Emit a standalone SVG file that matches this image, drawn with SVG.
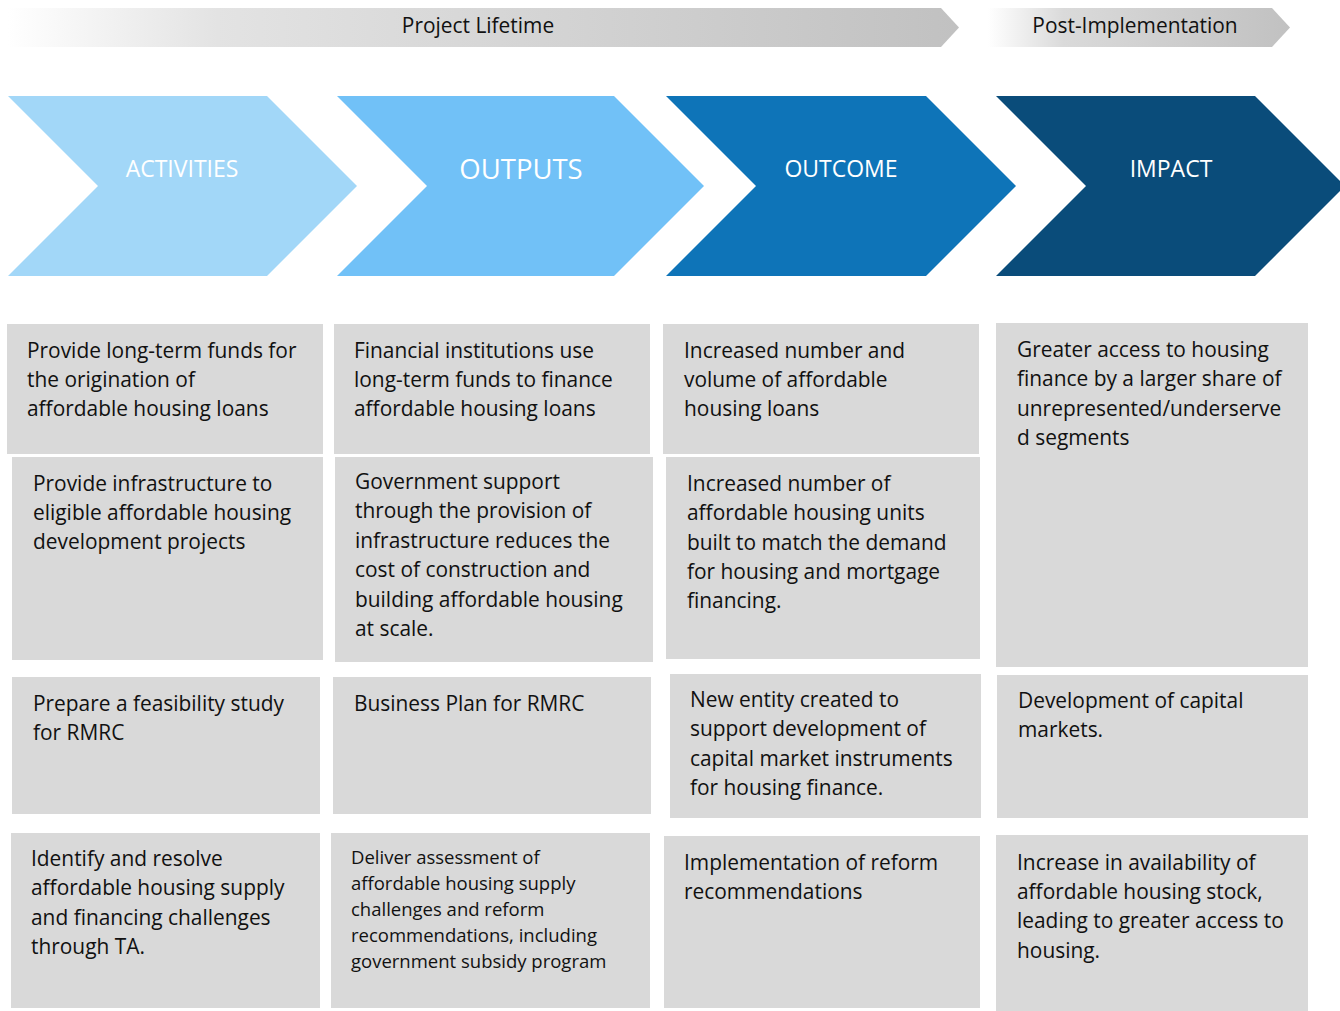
<svg xmlns="http://www.w3.org/2000/svg" width="1340" height="1011" viewBox="0 0 1340 1011">
  <defs>
    <linearGradient id="gradLifetime" x1="8" y1="0" x2="958" y2="0" gradientUnits="userSpaceOnUse">
      <stop offset="0" stop-color="#ffffff"/>
      <stop offset="0.22" stop-color="#e3e3e3"/>
      <stop offset="1" stop-color="#c1c1c1"/>
    </linearGradient>
    <linearGradient id="gradPost" x1="988" y1="0" x2="1290" y2="0" gradientUnits="userSpaceOnUse">
      <stop offset="0" stop-color="#ffffff"/>
      <stop offset="0.25" stop-color="#dadada"/>
      <stop offset="1" stop-color="#c1c1c1"/>
    </linearGradient>
    <style>
      .box { fill: #d9d9d9; }
      .txt { font-family: "Open Sans", "Liberation Sans", sans-serif; font-size: 20.9px; fill: #111111; }
      .small { font-size: 18.5px; }
      .banner { font-family: "Open Sans", "Liberation Sans", sans-serif; font-size: 20.9px; fill: #111111; text-anchor: middle; }
      .stage { font-family: "Open Sans", "Liberation Sans", sans-serif; font-size: 23px; fill: #ffffff; text-anchor: middle; }
      .stage-big { font-size: 27.5px; }
    </style>
  </defs>

  <!-- Timeline banners -->
  <g id="banner-lifetime">
    <polygon points="8,8 941,8 959,27.5 941,47 8,47" fill="url(#gradLifetime)"/>
    <text class="banner" x="478" y="32.5">Project Lifetime</text>
  </g>
  <g id="banner-post">
    <polygon points="988,8 1272,8 1290,27.5 1272,47 988,47" fill="url(#gradPost)"/>
    <text class="banner" x="1135" y="32.5">Post-Implementation</text>
  </g>

  <!-- Stage chevrons -->
  <g id="stage-activities">
    <polygon points="8,96 267,96 357,186 267,276 8,276 98,186" fill="#a2d7f8"/>
    <text class="stage" x="182" y="177">ACTIVITIES</text>
  </g>
  <g id="stage-outputs">
    <polygon points="337,96 614,96 704,186 614,276 337,276 427,186" fill="#71c1f7"/>
    <text class="stage stage-big" x="521" y="179">OUTPUTS</text>
  </g>
  <g id="stage-outcome">
    <polygon points="666,96 926,96 1016,186 926,276 666,276 756,186" fill="#0e74b8"/>
    <text class="stage" x="841" y="177">OUTCOME</text>
  </g>
  <g id="stage-impact">
    <polygon points="996,96 1255,96 1345,186 1255,276 996,276 1086,186" fill="#0a4c7a"/>
    <text class="stage" x="1171" y="177">IMPACT</text>
  </g>

  <!-- Activities column -->
  <g id="act-1">
    <rect class="box" x="7" y="324" width="316" height="130"/>
    <text class="txt" x="27" y="358"><tspan x="27">Provide long-term funds for</tspan><tspan x="27" dy="29">the origination of</tspan><tspan x="27" dy="29">affordable housing loans</tspan></text>
  </g>
  <g id="act-2">
    <rect class="box" x="12" y="457" width="311" height="203"/>
    <text class="txt" x="33" y="491"><tspan x="33">Provide infrastructure to</tspan><tspan x="33" dy="29">eligible affordable housing</tspan><tspan x="33" dy="29">development projects</tspan></text>
  </g>
  <g id="act-3">
    <rect class="box" x="12" y="677" width="308" height="137"/>
    <text class="txt" x="33" y="711"><tspan x="33">Prepare a feasibility study</tspan><tspan x="33" dy="29">for RMRC</tspan></text>
  </g>
  <g id="act-4">
    <rect class="box" x="11" y="833" width="309" height="175"/>
    <text class="txt" x="31" y="866"><tspan x="31">Identify and resolve</tspan><tspan x="31" dy="29.3">affordable housing supply</tspan><tspan x="31" dy="29.3">and financing challenges</tspan><tspan x="31" dy="29.3">through TA.</tspan></text>
  </g>

  <!-- Outputs column -->
  <g id="out-1">
    <rect class="box" x="334" y="324" width="316" height="130"/>
    <text class="txt" x="354" y="358"><tspan x="354">Financial institutions use</tspan><tspan x="354" dy="29">long-term funds to finance</tspan><tspan x="354" dy="29">affordable housing loans</tspan></text>
  </g>
  <g id="out-2">
    <rect class="box" x="335" y="457" width="318" height="205"/>
    <text class="txt" x="355" y="489"><tspan x="355">Government support</tspan><tspan x="355" dy="29.4">through the provision of</tspan><tspan x="355" dy="29.4">infrastructure reduces the</tspan><tspan x="355" dy="29.4">cost of construction and</tspan><tspan x="355" dy="29.4">building affordable housing</tspan><tspan x="355" dy="29.4">at scale.</tspan></text>
  </g>
  <g id="out-3">
    <rect class="box" x="333" y="677" width="318" height="137"/>
    <text class="txt" x="354" y="711">Business Plan for RMRC</text>
  </g>
  <g id="out-4">
    <rect class="box" x="331" y="833" width="319" height="175"/>
    <text class="txt small" x="351" y="864"><tspan x="351">Deliver assessment of</tspan><tspan x="351" dy="26">affordable housing supply</tspan><tspan x="351" dy="26">challenges and reform</tspan><tspan x="351" dy="26">recommendations, including</tspan><tspan x="351" dy="26">government subsidy program</tspan></text>
  </g>

  <!-- Outcome column -->
  <g id="outc-1">
    <rect class="box" x="663" y="324" width="316" height="130"/>
    <text class="txt" x="684" y="358"><tspan x="684">Increased number and</tspan><tspan x="684" dy="29">volume of affordable</tspan><tspan x="684" dy="29">housing loans</tspan></text>
  </g>
  <g id="outc-2">
    <rect class="box" x="666" y="457" width="314" height="202"/>
    <text class="txt" x="687" y="491"><tspan x="687">Increased number of</tspan><tspan x="687" dy="29.3">affordable housing units</tspan><tspan x="687" dy="29.3">built to match the demand</tspan><tspan x="687" dy="29.3">for housing and mortgage</tspan><tspan x="687" dy="29.3">financing.</tspan></text>
  </g>
  <g id="outc-3">
    <rect class="box" x="670" y="674" width="311" height="144"/>
    <text class="txt" x="690" y="707"><tspan x="690">New entity created to</tspan><tspan x="690" dy="29.3">support development of</tspan><tspan x="690" dy="29.3">capital market instruments</tspan><tspan x="690" dy="29.3">for housing finance.</tspan></text>
  </g>
  <g id="outc-4">
    <rect class="box" x="664" y="836" width="316" height="172"/>
    <text class="txt" x="684" y="870"><tspan x="684">Implementation of reform</tspan><tspan x="684" dy="29">recommendations</tspan></text>
  </g>

  <!-- Impact column -->
  <g id="imp-1">
    <rect class="box" x="996" y="323" width="312" height="344"/>
    <text class="txt" x="1017" y="357"><tspan x="1017">Greater access to housing</tspan><tspan x="1017" dy="29.3">finance by a larger share of</tspan><tspan x="1017" dy="29.3">unrepresented/underserve</tspan><tspan x="1017" dy="29.3">d segments</tspan></text>
  </g>
  <g id="imp-3">
    <rect class="box" x="997" y="675" width="311" height="143"/>
    <text class="txt" x="1018" y="708"><tspan x="1018">Development of capital</tspan><tspan x="1018" dy="29">markets.</tspan></text>
  </g>
  <g id="imp-4">
    <rect class="box" x="996" y="835" width="312" height="176"/>
    <text class="txt" x="1017" y="870"><tspan x="1017">Increase in availability of</tspan><tspan x="1017" dy="29.2">affordable housing stock,</tspan><tspan x="1017" dy="29.2">leading to greater access to</tspan><tspan x="1017" dy="29.2">housing.</tspan></text>
  </g>

  <!-- Stages are linked by the chevron shapes themselves -->
  <g id="connectors"/>
</svg>
